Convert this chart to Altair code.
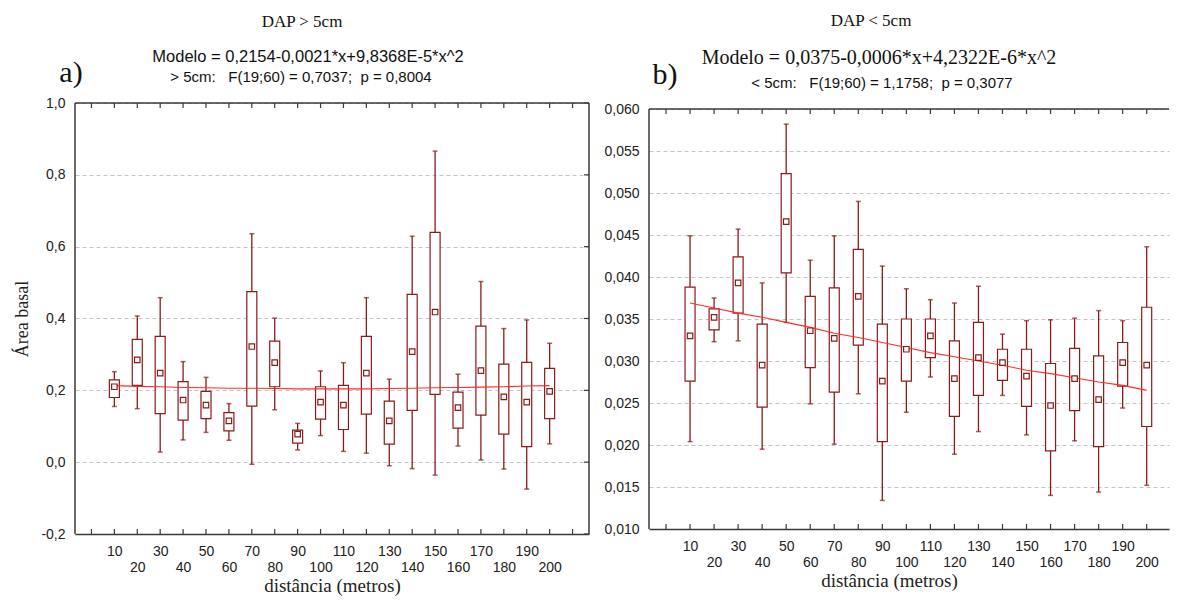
import altair as alt
import pandas as pd

# distance classes (m)
dist = [10, 20, 30, 40, 50, 60, 70, 80, 90, 100,
        110, 120, 130, 140, 150, 160, 170, 180, 190, 200]
xticks = [0, 10, 20, 30, 40, 50, 60, 70, 80, 90, 100,
          110, 120, 130, 140, 150, 160, 170, 180, 190, 200, 210]

# a) DAP > 5cm  (mean, box, whiskers, fitted curve)
mean_a = [0.210, 0.285, 0.248, 0.173, 0.159, 0.115, 0.322, 0.277, 0.078, 0.167,
          0.159, 0.248, 0.115, 0.308, 0.418, 0.152, 0.255, 0.182, 0.167, 0.197]
lo_a = [0.180, 0.214, 0.135, 0.117, 0.121, 0.087, 0.156, 0.210, 0.053, 0.120,
        0.091, 0.134, 0.050, 0.144, 0.189, 0.095, 0.131, 0.078, 0.043, 0.121]
hi_a = [0.229, 0.342, 0.350, 0.224, 0.197, 0.138, 0.475, 0.337, 0.089, 0.210,
        0.214, 0.350, 0.170, 0.467, 0.640, 0.195, 0.379, 0.273, 0.278, 0.261]
wlo_a = [0.155, 0.149, 0.028, 0.062, 0.083, 0.061, -0.006, 0.146, 0.034, 0.074,
         0.030, 0.025, -0.010, -0.018, -0.036, 0.045, 0.006, -0.019, -0.075, 0.051]
whi_a = [0.252, 0.407, 0.458, 0.280, 0.236, 0.163, 0.636, 0.401, 0.108, 0.254,
         0.277, 0.458, 0.231, 0.629, 0.866, 0.245, 0.503, 0.372, 0.396, 0.331]
fit_a = [0.213, 0.211, 0.210, 0.208, 0.207, 0.206, 0.206, 0.205, 0.204, 0.204,
         0.204, 0.204, 0.205, 0.206, 0.207, 0.208, 0.209, 0.210, 0.212, 0.213]

# b) DAP < 5cm
mean_b = [0.0330, 0.0352, 0.0393, 0.0295, 0.0466, 0.0336, 0.0327, 0.0377, 0.0276, 0.0314,
          0.0330, 0.0279, 0.0304, 0.0298, 0.0282, 0.0247, 0.0279, 0.0254, 0.0298, 0.0295]
lo_b = [0.0276, 0.0337, 0.0357, 0.0245, 0.0405, 0.0292, 0.0263, 0.0319, 0.0204, 0.0276,
        0.0304, 0.0234, 0.0259, 0.0277, 0.0246, 0.0193, 0.0241, 0.0198, 0.0270, 0.0222]
hi_b = [0.0388, 0.0362, 0.0424, 0.0344, 0.0523, 0.0377, 0.0387, 0.0433, 0.0344, 0.0350,
        0.0350, 0.0324, 0.0346, 0.0314, 0.0314, 0.0297, 0.0315, 0.0306, 0.0322, 0.0364]
wlo_b = [0.0204, 0.0323, 0.0324, 0.0195, 0.0346, 0.0249, 0.0201, 0.0261, 0.0134, 0.0239,
         0.0281, 0.0189, 0.0216, 0.0259, 0.0212, 0.0140, 0.0205, 0.0144, 0.0244, 0.0152]
whi_b = [0.0449, 0.0375, 0.0457, 0.0393, 0.0582, 0.0420, 0.0449, 0.0490, 0.0413, 0.0386,
         0.0373, 0.0369, 0.0389, 0.0332, 0.0348, 0.0349, 0.0351, 0.0360, 0.0348, 0.0436]
fit_b = [0.0369, 0.0363, 0.0357, 0.0352, 0.0346, 0.0340, 0.0333, 0.0328, 0.0322, 0.0316,
         0.0310, 0.0305, 0.0300, 0.0295, 0.0289, 0.0285, 0.0280, 0.0275, 0.0271, 0.0265]

yticks_a = [-0.2, 0.0, 0.2, 0.4, 0.6, 0.8, 1.0]
yticks_b = [0.010, 0.015, 0.020, 0.025, 0.030, 0.035, 0.040, 0.045, 0.050, 0.055, 0.060]

RED = "#8b1a1a"
FIT = "#ff2b2b"
AXIS = "#3a3a3a"
GRID = "#c4c4c4"
SANS = "Liberation Sans"
SERIF = "Liberation Serif"
NB = "\u00a0"


def panel(df, ydom, yvals, yfmt, ytitle, w, h, top_off, xmax, notes, xtitle_x, right_frame):
    # top_off: plot frame starts this many px below the group top
    y_top = ydom[1] + top_off * (ydom[1] - ydom[0]) / (h - top_off)
    xs = alt.Scale(domain=[-5, xmax], nice=False, zero=False)
    ys = alt.Scale(domain=[ydom[0], y_top], nice=False, zero=False)

    xax = alt.Axis(
        values=dist,
        labelExpr="datum.value % 20 == 0 ? ['', datum.label] : datum.label",
        labelFont=SANS, labelFontSize=14, labelColor="#222", labelLineHeight=16,
        labelPadding=10, labelFlush=False, labelOverlap=False,
        ticks=False, grid=False, domainColor=AXIS, domainWidth=1.5,
        title="distância (metros)", titleFont=SERIF, titleFontSize=19,
        titleFontWeight="normal", titleColor="#222", titlePadding=2,
        titleX=xtitle_x,
    )
    yax = alt.Axis(
        values=yvals,
        labelExpr="replace(replace(format(datum.value, '" + yfmt + "'), '.', ','), '\u2212', '-')",
        labelFont=SANS, labelFontSize=14, labelColor="#222", labelPadding=10,
        ticks=False, grid=True, gridColor=GRID, gridDash=[4, 3], gridWidth=1,
        domain=False,
        title=ytitle, titleFont=SERIF, titleFontSize=18,
        titleFontWeight="normal", titleColor="#222", titlePadding=9,
    )
    X = alt.X("d:Q", scale=xs, axis=xax)

    def Y(f):
        return alt.Y(f, type="quantitative", scale=ys, axis=yax)

    base = alt.Chart(df)
    whisk = base.mark_rule(color=RED, strokeWidth=1.3).encode(x=X, y=Y("wlo"), y2="whi:Q")
    cap_lo = base.mark_tick(color=RED, orient="horizontal", size=5, thickness=1.5).encode(
        x=X, y=Y("wlo"))
    cap_hi = base.mark_tick(color=RED, orient="horizontal", size=5, thickness=1.5).encode(
        x=X, y=Y("whi"))
    box = base.mark_bar(size=10, fill="white", stroke=RED, strokeWidth=1.2).encode(
        x=X, y=Y("lo"), y2="hi:Q")
    fit = base.mark_line(color=FIT, strokeWidth=1.1).encode(x=X, y=Y("fit"))
    mean = base.mark_square(size=30, fill="white", stroke=RED, strokeWidth=1.2, opacity=1).encode(
        x=X, y=Y("mean"))

    tk = alt.Chart(pd.DataFrame({"d": [t for t in xticks if t <= xmax]}))
    tick_top = tk.mark_rule(color=AXIS, strokeWidth=1.2).encode(
        x=X, y=alt.value(top_off), y2=alt.value(top_off + 5))
    tick_bot = tk.mark_rule(color=AXIS, strokeWidth=1.2).encode(
        x=X, y=alt.value(h), y2=alt.value(h - 5))

    one = alt.Data(values=[{}])
    frame_top = alt.Chart(one).mark_rule(color=AXIS, strokeWidth=1.5).encode(
        x=alt.value(0), x2=alt.value(w), y=alt.value(top_off))
    frame_l = alt.Chart(one).mark_rule(color=AXIS, strokeWidth=1.5).encode(
        x=alt.value(0), y=alt.value(top_off), y2=alt.value(h))

    layers = [whisk, box, cap_lo, cap_hi, fit, mean, tick_top, tick_bot, frame_top, frame_l]

    if right_frame:
        frame_r = alt.Chart(one).mark_rule(color=AXIS, strokeWidth=1.5).encode(
            x=alt.value(w), y=alt.value(top_off), y2=alt.value(h))
        gt = alt.Chart(pd.DataFrame({"g": yvals})).mark_rule(color=AXIS, strokeWidth=1.2).encode(
            y=Y("g"), x=alt.value(w - 5), x2=alt.value(w))
        layers += [frame_r, gt]

    for txt, x, y, font, size in notes:
        layers.append(
            alt.Chart(one).mark_text(font=font, fontSize=size, color="#111", align="center",
                                     baseline="alphabetic").encode(
                x=alt.value(x), y=alt.value(y), text=alt.value(txt)))

    return alt.layer(*layers).properties(width=w, height=h)


df_a = pd.DataFrame({"d": dist, "mean": mean_a, "lo": lo_a, "hi": hi_a,
                     "wlo": wlo_a, "whi": whi_a, "fit": fit_a})
df_b = pd.DataFrame({"d": dist, "mean": mean_b, "lo": lo_b, "hi": hi_b,
                     "wlo": wlo_b, "whi": whi_b, "fit": fit_b})

notes_a = [
    ("DAP > 5cm", 227, -76, SERIF, 17),
    ("Modelo = 0,2154-0,0021*x+9,8368E-5*x^2", 233, -41, SANS, 16.5),
    ("> 5cm:" + NB * 3 + "F(19;60) = 0,7037;" + NB + " p = 0,8004", 226, -21, SANS, 15),
    ("a)", -4, -21, SERIF, 30),
]
notes_b = [
    ("DAP < 5cm", 222, -77, SERIF, 17),
    ("Modelo = 0,0375-0,0006*x+4,2322E-6*x^2", 230, -39, SERIF, 20),
    ("< 5cm:" + NB * 3 + "F(19;60) = 1,1758;" + NB + " p = 0,3077", 233, -15, SANS, 15),
    ("b)", 16, -19, SERIF, 30),
]

left = panel(df_a, [-0.2, 1.0], yticks_a, ".1f", "Área basal", 514, 431, 0, 215,
             notes_a, 257, True)
right = panel(df_b, [0.010, 0.060], yticks_b, ".3f", "", 520, 426, 6, 207.2,
              notes_b, 240, False)

chart = (
    alt.hconcat(left, right, spacing=12)
    .properties(padding={"left": 5, "top": 3, "right": 0, "bottom": 0})
    .configure_view(stroke="transparent")
)

chart.save("out.html", embed_options={"renderer": "svg", "actions": False})
